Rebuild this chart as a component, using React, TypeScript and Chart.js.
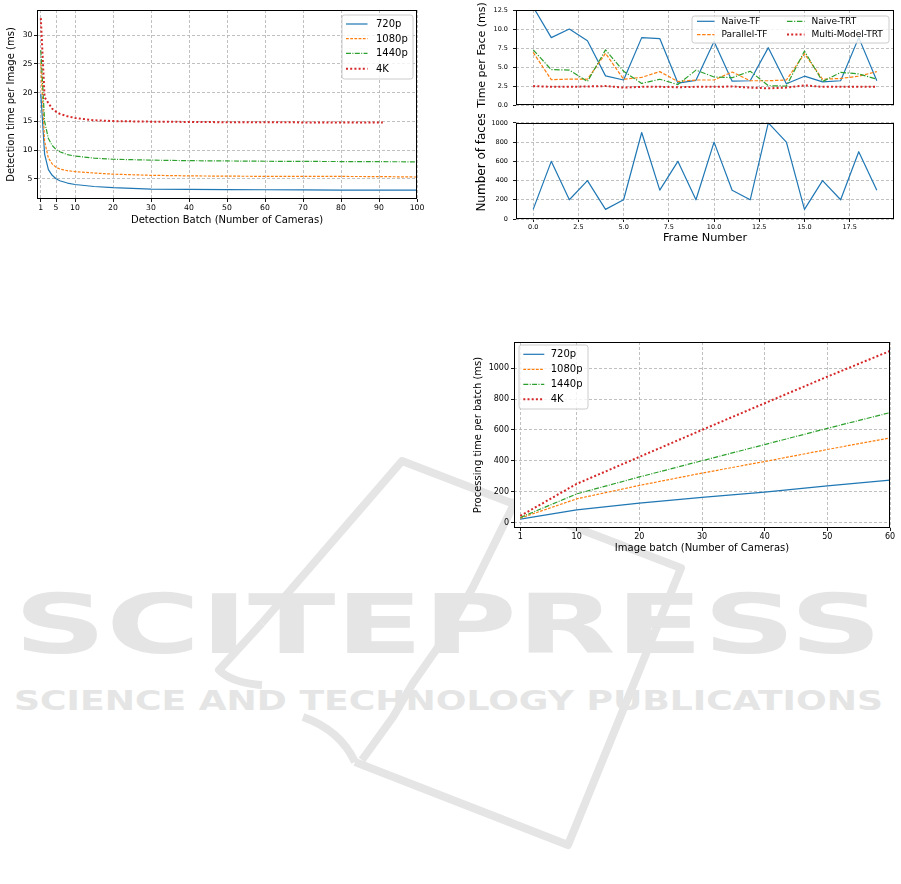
import React, { useEffect, useRef } from 'react';
import { Chart, registerables } from 'chart.js';

Chart.register(...registerables);
Chart.defaults.font.family = 'DejaVu Sans';
Chart.defaults.color = '#000';

// ---------------- Chart 1: detection time per image ----------------
const DET_BATCH = [1, 2, 3, 4, 5, 6, 8, 10, 15, 20, 30, 40, 50, 60, 70, 80, 90, 100];
const DET_BATCH_4K = [1, 2, 3, 4, 5, 6, 8, 10, 15, 20, 30, 40, 50, 60, 70, 80, 91];
const DET_720 = [19.8, 9.3, 6.6, 5.6, 5.0, 4.65, 4.25, 4.0, 3.65, 3.45, 3.2, 3.15, 3.1, 3.08, 3.05, 3.03, 3.02, 3.0];
const DET_1080 = [25.2, 11.5, 8.6, 7.6, 7.0, 6.7, 6.4, 6.25, 6.0, 5.8, 5.6, 5.5, 5.45, 5.42, 5.4, 5.4, 5.38, 5.3];
const DET_1440 = [27.4, 15.0, 12.0, 10.8, 10.1, 9.7, 9.2, 8.95, 8.6, 8.4, 8.25, 8.15, 8.1, 8.05, 8.02, 8.0, 7.97, 7.95];
const DET_4K = [33.0, 19.2, 18.2, 17.2, 16.7, 16.3, 15.9, 15.6, 15.2, 15.05, 14.95, 14.9, 14.85, 14.85, 14.82, 14.8, 14.8];
const DET_X_TICKS = [1, 5, 10, 20, 30, 40, 50, 60, 70, 80, 90, 100];
const DET_Y_TICKS = [5, 10, 15, 20, 25, 30];

// ---------------- Chart 2: time per face / number of faces ----------------
const FRAMES = [0, 1, 2, 3, 4, 5, 6, 7, 8, 9, 10, 11, 12, 13, 14, 15, 16, 17, 18, 19];
const NAIVE_TF = [12.9, 8.87, 10.0, 8.46, 3.84, 3.3, 8.87, 8.75, 2.9, 3.26, 8.37, 3.14, 3.2, 7.55, 2.8, 3.8, 3.05, 3.2, 8.87, 3.2];
const PARALLEL_TF = [6.93, 3.34, 3.42, 3.4, 6.8, 3.4, 3.65, 4.4, 3.1, 3.3, 3.3, 4.35, 3.2, 3.2, 3.3, 6.75, 3.4, 3.5, 3.8, 4.4];
const NAIVE_TRT = [7.26, 4.66, 4.6, 3.1, 7.26, 4.45, 2.85, 3.4, 2.7, 4.6, 3.7, 3.6, 4.45, 2.55, 2.5, 7.1, 3.1, 4.3, 4.1, 3.4];
const MULTI_TRT = [2.5, 2.4, 2.4, 2.45, 2.5, 2.3, 2.4, 2.4, 2.35, 2.4, 2.4, 2.45, 2.3, 2.2, 2.3, 2.6, 2.4, 2.4, 2.4, 2.4];
const FACES = [100, 600, 200, 400, 100, 200, 900, 300, 600, 200, 800, 300, 200, 1000, 800, 100, 400, 200, 700, 300];
const FRAME_TICKS = [0, 2.5, 5, 7.5, 10, 12.5, 15, 17.5];
const TIME_TICKS = [0, 2.5, 5, 7.5, 10, 12.5];
const FACE_TICKS = [0, 200, 400, 600, 800, 1000];

// ---------------- Chart 3: processing time per batch ----------------
const IMG_BATCH = [1, 10, 20, 30, 40, 50, 60];
const PROC_720 = [22, 82, 125, 162, 197, 237, 274];
const PROC_1080 = [28, 153, 240, 320, 395, 473, 548];
const PROC_1440 = [32, 185, 295, 400, 505, 610, 712];
const PROC_4K = [42, 250, 425, 600, 773, 945, 1112];
const IMG_X_TICKS = [1, 10, 20, 30, 40, 50, 60];
const IMG_Y_TICKS = [0, 200, 400, 600, 800, 1000];

// ---------------- styles ----------------
const BLUE = '#1f77b4';
const ORANGE = '#ff7f0e';
const GREEN = '#2ca02c';
const RED = '#d62728';
const SOLID: number[] = [];
const DASHED = [2.8, 1.4];
const DASHDOT = [5, 1.4, 1, 1.4];
const DOTTED = [2, 2.2];
const WM = '#e4e5e4';
const FONT = 'DejaVu Sans';

function pts(xs: number[], ys: number[]) {
  return ys.map((y, i) => ({ x: xs[i], y }));
}

function series(label: string, xs: number[], ys: number[], color: string, dash: number[], width: number, idx: number) {
  return {
    label,
    data: pts(xs, ys),
    borderColor: color,
    backgroundColor: color,
    borderWidth: width,
    borderDash: dash,
    borderCapStyle: 'butt',
    borderJoinStyle: 'round',
    pointRadius: 0,
    pointHoverRadius: 0,
    fill: false,
    tension: 0,
    order: -idx,
  };
}

function axis(o: any) {
  return {
    type: 'linear',
    min: o.min,
    max: o.max,
    bounds: 'data',
    afterBuildTicks: (s: any) => {
      s.ticks = o.ticks.map((v: number) => ({ value: v }));
    },
    afterFit: (s: any) => {
      if (o.fitW != null) s.width = o.fitW;
      if (o.fitH != null) s.height = o.fitH;
    },
    ticks: {
      display: o.showLabels !== false,
      font: { family: FONT, size: o.size || 8 },
      color: '#000',
      padding: o.pad ?? 2,
      autoSkip: false,
      maxRotation: 0,
      minRotation: 0,
      callback: (v: number) => (o.fmt ? o.fmt(v) : String(v)),
    },
    grid: {
      color: '#b0b0b0',
      lineWidth: 0.8,
      drawTicks: true,
      tickLength: o.tl ?? 3,
      tickColor: '#000',
      tickWidth: 0.9,
      tickBorderDash: [],
    },
    border: { display: false, dash: [3, 2] },
    title: o.title
      ? {
          display: true,
          text: o.title.text,
          font: { family: FONT, size: o.title.size },
          color: '#000',
          padding: o.title.padding,
        }
      : { display: false },
  };
}

const framePlugin = {
  id: 'mplFrame',
  beforeDraw(chart: any) {
    const { ctx, chartArea: a } = chart;
    ctx.save();
    ctx.fillStyle = '#ffffff';
    ctx.fillRect(a.left, a.top, a.right - a.left, a.bottom - a.top);
    ctx.restore();
  },
  afterDatasetsDraw(chart: any) {
    const { ctx, chartArea: a } = chart;
    ctx.save();
    ctx.strokeStyle = '#000';
    ctx.lineWidth = 1;
    ctx.setLineDash([]);
    const l = Math.round(a.left) + 0.5;
    const t = Math.round(a.top) + 0.5;
    const r = Math.round(a.right) - 0.5;
    const b = Math.round(a.bottom) - 0.5;
    ctx.strokeRect(l, t, r - l, b - t);
    ctx.restore();
  },
};

function legendPlugin(cfg: any) {
  return {
    id: 'mplLegend',
    afterDatasetsDraw(chart: any) {
      const ctx = chart.ctx;
      const [bx, by, bw, bh] = cfg.box;
      const rad = 2.5;
      ctx.save();
      ctx.beginPath();
      ctx.moveTo(bx + rad, by);
      ctx.lineTo(bx + bw - rad, by);
      ctx.quadraticCurveTo(bx + bw, by, bx + bw, by + rad);
      ctx.lineTo(bx + bw, by + bh - rad);
      ctx.quadraticCurveTo(bx + bw, by + bh, bx + bw - rad, by + bh);
      ctx.lineTo(bx + rad, by + bh);
      ctx.quadraticCurveTo(bx, by + bh, bx, by + bh - rad);
      ctx.lineTo(bx, by + rad);
      ctx.quadraticCurveTo(bx, by, bx + rad, by);
      ctx.closePath();
      ctx.fillStyle = 'rgba(255,255,255,0.8)';
      ctx.fill();
      ctx.strokeStyle = '#cccccc';
      ctx.lineWidth = 1;
      ctx.stroke();
      chart.data.datasets.forEach((ds: any, i: number) => {
        const [sx, sy] = cfg.slots[i];
        ctx.beginPath();
        ctx.setLineDash(ds.borderDash || []);
        ctx.lineCap = 'butt';
        ctx.strokeStyle = ds.borderColor;
        ctx.lineWidth = ds.borderWidth;
        ctx.moveTo(sx, sy);
        ctx.lineTo(sx + cfg.sampleW, sy);
        ctx.stroke();
        ctx.setLineDash([]);
        ctx.fillStyle = '#000';
        ctx.font = `${cfg.size}px "${FONT}"`;
        ctx.textAlign = 'left';
        ctx.textBaseline = 'middle';
        ctx.fillText(ds.label, sx + cfg.textGap, sy + 0.5);
      });
      ctx.restore();
    },
  };
}

function ylabPlugin(cfg: any) {
  return {
    id: 'mplYLabel',
    afterDraw(chart: any) {
      const ctx = chart.ctx;
      ctx.save();
      ctx.translate(cfg.x, cfg.y);
      ctx.rotate(-Math.PI / 2);
      ctx.font = `${cfg.size}px "${FONT}"`;
      ctx.fillStyle = '#000';
      ctx.textAlign = 'center';
      ctx.textBaseline = 'middle';
      ctx.fillText(cfg.text, 0, 0);
      ctx.restore();
    },
  };
}

function baseOptions(padding: any, scales: any) {
  return {
    responsive: false,
    animation: false,
    devicePixelRatio: 1,
    events: [],
    layout: { padding },
    plugins: { legend: { display: false }, tooltip: { enabled: false } },
    scales,
  };
}

function makeDetection() {
  return {
    type: 'line',
    data: {
      datasets: [
        series('720p', DET_BATCH, DET_720, BLUE, SOLID, 1.2, 0),
        series('1080p', DET_BATCH, DET_1080, ORANGE, DASHED, 1.2, 1),
        series('1440p', DET_BATCH, DET_1440, GREEN, DASHDOT, 1.2, 2),
        series('4K', DET_BATCH_4K, DET_4K, RED, DOTTED, 2, 3),
      ],
    },
    options: baseOptions(
      { top: 10, right: 13, left: 0, bottom: 0 },
      {
        x: axis({
          min: 0, max: 100, ticks: DET_X_TICKS, size: 7.7, tl: 3, pad: 1.5, fitH: 33,
          title: { text: 'Detection Batch (Number of Cameras)', size: 10, padding: { top: 0, bottom: 5.5 } },
        }),
        y: axis({
          min: 1.47, max: 34.41, ticks: DET_Y_TICKS, size: 7.7, tl: 3, pad: 1.5, fitW: 37,
          title: { text: 'Detection time per Image (ms)', size: 10, padding: { top: 5, bottom: 0 } },
        }),
      }
    ),
    plugins: [
      framePlugin,
      legendPlugin({
        box: [342, 15, 71, 64],
        slots: [[346, 24], [346, 38.7], [346, 53.3], [346, 68.7]],
        sampleW: 21.5,
        textGap: 30,
        size: 10,
      }),
    ],
  };
}

function makeTimePerFace() {
  return {
    type: 'line',
    data: {
      datasets: [
        series('Naive-TF', FRAMES, NAIVE_TF, BLUE, SOLID, 1.2, 0),
        series('Parallel-TF', FRAMES, PARALLEL_TF, ORANGE, [3.5, 1.6], 1.2, 1),
        series('Naive-TRT', FRAMES, NAIVE_TRT, GREEN, [5.5, 1.6, 1.2, 1.6], 1.2, 2),
        series('Multi-Model-TRT', FRAMES, MULTI_TRT, RED, DOTTED, 2, 3),
      ],
    },
    options: baseOptions(
      { top: 10, right: 7, left: 0, bottom: 0 },
      {
        x: axis({ min: -0.95, max: 19.95, ticks: FRAME_TICKS, showLabels: false, tl: 3, fitH: 3 }),
        y: axis({
          min: 0, max: 12.5, ticks: TIME_TICKS, size: 6.5, tl: 3, pad: 5, fitW: 76,
          fmt: (v: number) => v.toFixed(1),
        }),
      }
    ),
    plugins: [
      framePlugin,
      legendPlugin({
        box: [252, 16, 197, 27],
        slots: [[257, 21.3], [257, 34.6], [347, 21.3], [347, 34.6]],
        sampleW: 17.5,
        textGap: 24.5,
        size: 9,
      }),
      ylabPlugin({ text: 'Time per Face (ms)', x: 42, y: 55, size: 11 }),
    ],
  };
}

function makeFaces() {
  return {
    type: 'line',
    data: {
      datasets: [series('Number of faces', FRAMES, FACES, BLUE, SOLID, 1.2, 0)],
    },
    options: baseOptions(
      { top: 3, right: 7, left: 0, bottom: 0 },
      {
        x: axis({
          min: -0.95, max: 19.95, ticks: FRAME_TICKS, size: 6.5, tl: 3, pad: 1.5, fitH: 31,
          fmt: (v: number) => v.toFixed(1),
          title: { text: 'Frame Number', size: 11.3, padding: { top: 0, bottom: 5 } },
        }),
        y: axis({ min: 0, max: 1000, ticks: FACE_TICKS, size: 6.5, tl: 3, pad: 5, fitW: 76 }),
      }
    ),
    plugins: [framePlugin, ylabPlugin({ text: 'Number of faces', x: 42, y: 48, size: 12 })],
  };
}

function makeProcessing() {
  return {
    type: 'line',
    data: {
      datasets: [
        series('720p', IMG_BATCH, PROC_720, BLUE, SOLID, 1.2, 0),
        series('1080p', IMG_BATCH, PROC_1080, ORANGE, DASHED, 1.2, 1),
        series('1440p', IMG_BATCH, PROC_1440, GREEN, DASHDOT, 1.2, 2),
        series('4K', IMG_BATCH, PROC_4K, RED, DOTTED, 2, 3),
      ],
    },
    options: baseOptions(
      { top: 12, right: 11, left: 0, bottom: 0 },
      {
        x: axis({
          min: 0, max: 60, ticks: IMG_X_TICKS, size: 8, tl: 3, pad: 1, fitH: 34,
          title: { text: 'Image batch (Number of Cameras)', size: 10, padding: { top: 0, bottom: 7.5 } },
        }),
        y: axis({
          min: -36, max: 1170, ticks: IMG_Y_TICKS, size: 8, tl: 3, pad: 2, fitW: 54,
          title: { text: 'Processing time per batch (ms)', size: 10, padding: { top: 12, bottom: 0 } },
        }),
      }
    ),
    plugins: [
      framePlugin,
      legendPlugin({
        box: [59, 15, 69, 64],
        slots: [[63.3, 24.3], [63.3, 39.3], [63.3, 54.3], [63.3, 69.3]],
        sampleW: 21,
        textGap: 27.4,
        size: 10,
      }),
    ],
  };
}

function ChartBox({ x, y, w, h, make }: { x: number; y: number; w: number; h: number; make: () => any }) {
  const ref = useRef<HTMLCanvasElement>(null);
  useEffect(() => {
    const chart = new Chart(ref.current as HTMLCanvasElement, make());
    return () => chart.destroy();
  }, []);
  return (
    <canvas
      ref={ref}
      width={w}
      height={h}
      style={{ position: 'absolute', left: x, top: y, width: w, height: h }}
    />
  );
}

function Watermark() {
  return (
    <svg width={901} height={884} style={{ position: 'absolute', left: 0, top: 0 }}>
      <g fill="none" stroke={WM} strokeWidth={8} strokeLinejoin="round" strokeLinecap="butt">
        <path d="M 262 623 L 402 461 L 681 568 L 568 845 L 355 762" />
        <path d="M 262 623 L 219 670 Q 232 683 262 685" />
        <path d="M 303 717 Q 340 730 355 762" />
        <path d="M 516 500 L 473 587 L 443 640 L 413 683 L 393 717 L 362 760" />
      </g>
      <text
        x={14}
        y={653}
        fontFamily={FONT}
        fontWeight="bold"
        fontSize={82}
        textLength={868}
        lengthAdjust="spacingAndGlyphs"
        fill={WM}
      >
        SCITEPRESS
      </text>
      <text
        x={14}
        y={710}
        fontFamily={FONT}
        fontWeight="bold"
        fontSize={27}
        textLength={869}
        lengthAdjust="spacingAndGlyphs"
        fill={WM}
      >
        SCIENCE AND TECHNOLOGY PUBLICATIONS
      </text>
    </svg>
  );
}

export default function App() {
  return (
    <div
      style={{
        position: 'absolute',
        left: 0,
        top: 0,
        width: 901,
        height: 884,
        background: '#ffffff',
        overflow: 'hidden',
      }}
    >
      <Watermark />
      <ChartBox x={0} y={0} w={430} h={232} make={makeDetection} />
      <ChartBox x={440} y={0} w={461} h={114} make={makeTimePerFace} />
      <ChartBox x={440} y={114} w={461} h={136} make={makeFaces} />
      <ChartBox x={460} y={330} w={441} h={232} make={makeProcessing} />
    </div>
  );
}
